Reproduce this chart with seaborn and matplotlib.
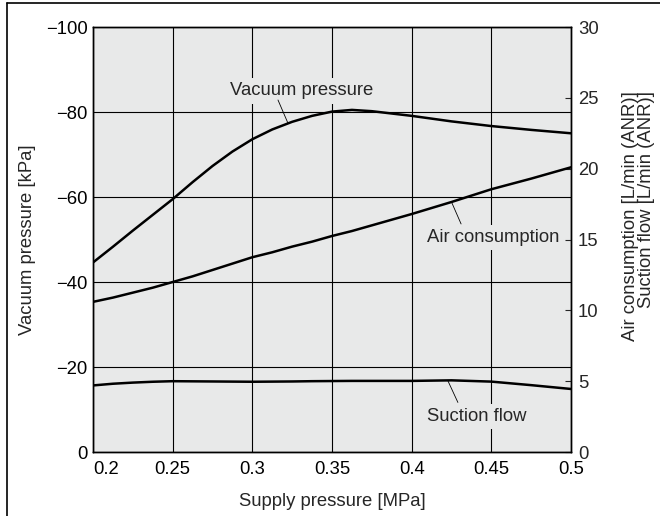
import matplotlib
matplotlib.use("Agg")
import matplotlib.pyplot as plt
import seaborn as sns
from matplotlib.lines import Line2D

# ------------------------------
# Data
# ------------------------------
supply = [0.2, 0.2125, 0.225, 0.2375, 0.25, 0.2625, 0.275, 0.2875, 0.3, 0.3125, 0.325,
          0.3375, 0.35, 0.3625, 0.375, 0.4, 0.425, 0.45, 0.475, 0.5]
vacuum = [-44.6, -48.3, -52.1, -55.8, -59.5, -63.5, -67.3, -70.7, -73.6, -75.9, -77.7,
          -79.1, -80.1, -80.5, -80.2, -79.1, -77.8, -76.7, -75.8, -75.0]
air = [10.6, 10.9, 11.25, 11.6, 12.0, 12.4, 12.85, 13.3, 13.75, 14.1, 14.5,
       14.85, 15.25, 15.6, 16.0, 16.8, 17.65, 18.55, 19.3, 20.1]
suction = [4.7, 4.82, 4.9, 4.96, 5.0, 4.99, 4.98, 4.97, 4.96, 4.97, 4.98,
           5.0, 5.01, 5.02, 5.02, 5.02, 5.06, 4.97, 4.72, 4.45]

x_ticks = [0.2, 0.25, 0.3, 0.35, 0.4, 0.45, 0.5]
left_ticks = [0, -20, -40, -60, -80, -100]
right_ticks = [0, 5, 10, 15, 20, 25, 30]

sns.set_style("white")
plt.rcParams['font.family'] = ['Liberation Sans', 'DejaVu Sans']
fs = 13.3

bg = "#e8e9e9"

fig = plt.figure(figsize=(6.6, 5.16), dpi=100)
ax = fig.add_axes([0.1409, 0.124, 0.7243, 0.8236])
ax2 = ax.twinx()

ax.set_facecolor(bg)
ax.set_xlim(0.2, 0.5)
ax.set_ylim(0, -100)
ax2.set_ylim(0, 30)

ax.set_xticks(x_ticks)
ax.set_xticklabels([f"{t:g}" for t in x_ticks])
ax.get_xticklabels()[0].set_horizontalalignment("left")
ax.set_yticks(left_ticks)
ax2.set_yticks(right_ticks)

ax.grid(True, color="black", lw=0.8)
ax.set_axisbelow(True)
ax.tick_params(axis="x", length=0, pad=6.5, colors="black", labelsize=fs)
ax.tick_params(axis="y", length=0, pad=4, colors="black", labelsize=fs)
ax2.tick_params(axis="y", direction="in", length=4, width=0.8, pad=5, labelsize=fs)

for a in (ax, ax2):
    for s in a.spines.values():
        s.set_color("black")
        s.set_linewidth(1.0)

# curves
sns.lineplot(x=supply, y=vacuum, ax=ax, color="black", lw=1.8)
sns.lineplot(x=supply, y=air, ax=ax2, color="black", lw=1.8)
sns.lineplot(x=supply, y=suction, ax=ax2, color="black", lw=1.8)

# labels with leaders
box = dict(facecolor=bg, edgecolor="none", pad=3)
leader = dict(arrowstyle="-", lw=0.6, color="black", shrinkA=0, shrinkB=0)
ax2.text(0.3309, 25.5, "Vacuum pressure", ha="center", va="center", fontsize=fs, bbox=box)
ax2.annotate("", xy=(0.3224, 23.2), xytext=(0.3161, 24.85), arrowprops=leader)
ax2.text(0.451, 15.15, "Air consumption", ha="center", va="center", fontsize=fs, bbox=box)
ax2.annotate("", xy=(0.4253, 17.57), xytext=(0.431, 16.1), arrowprops=leader)
ax2.text(0.441, 2.5, "Suction flow", ha="center", va="center", fontsize=fs, bbox=box)
ax2.annotate("", xy=(0.4228, 5.01), xytext=(0.429, 3.5), arrowprops=leader)

ax.set_xlabel("Supply pressure [MPa]", fontsize=fs, labelpad=11)
ax.set_ylabel("Vacuum pressure [kPa]", fontsize=fs, labelpad=7)
ax2.set_ylabel("Air consumption [L/min (ANR)]\nSuction flow [L/min (ANR)]", fontsize=fs,
               linespacing=0.92, multialignment="right")
ax2.yaxis.set_label_coords(1.107, 0.555)

# figure frame (left and top edges only)
fig.add_artist(Line2D([7 / 660, 7 / 660], [0, 1 - 3 / 516], transform=fig.transFigure, color="black", lw=1.2))
fig.add_artist(Line2D([7 / 660, 1], [1 - 3 / 516, 1 - 3 / 516], transform=fig.transFigure, color="black", lw=1.2))

fig.savefig("out.png", dpi=100)
